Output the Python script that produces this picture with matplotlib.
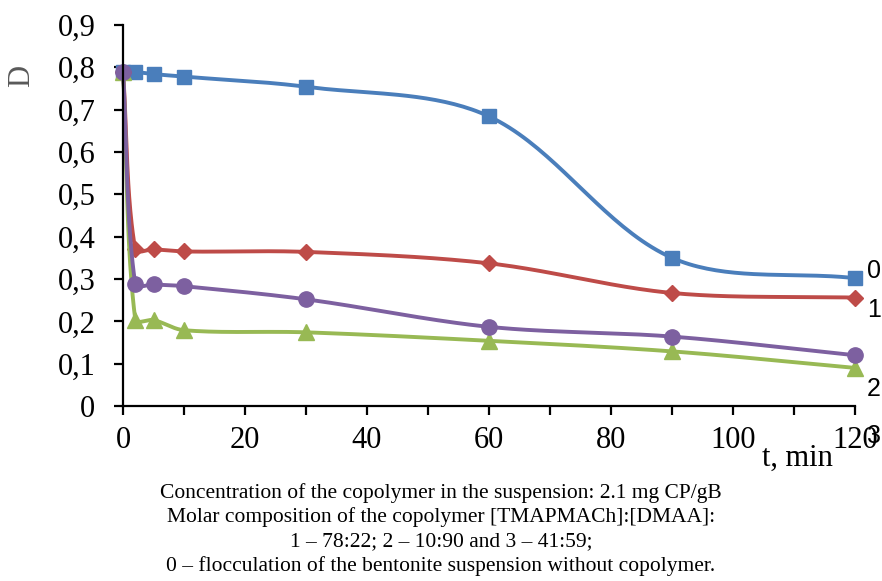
import matplotlib.pyplot as plt
import numpy as np
from matplotlib.ticker import MultipleLocator, FuncFormatter

# time points, min
t = [0, 2, 5, 10, 30, 60, 90, 120]

# optical density D for each curve
d0 = [0.790, 0.789, 0.784, 0.778, 0.754, 0.684, 0.350, 0.302]
d1 = [0.790, 0.370, 0.370, 0.365, 0.364, 0.337, 0.267, 0.256]
d2 = [0.790, 0.288, 0.287, 0.283, 0.252, 0.187, 0.164, 0.120]
d3 = [0.790, 0.204, 0.203, 0.179, 0.174, 0.154, 0.129, 0.090]

curve_names = ['0', '1', '2', '3']
caption = [
    'Concentration of the copolymer in the suspension: 2.1 mg CP/gB',
    'Molar composition of the copolymer [TMAPMACh]:[DMAA]:',
    '1 \u2013 78:22; 2 \u2013 10:90 and 3 \u2013 41:59;',
    '0 \u2013 flocculation of the bentonite suspension without copolymer.',
]

XMAX, YMAX = 120, 0.9
W, H = 732.0, 381.0  # plot area in pixels, used for the smoothing


def smooth(xs, ys, n=40):
    # smoothed line like a spreadsheet: cubic Bezier, tangents scaled by segment lengths
    p = np.column_stack([np.asarray(xs, float) / XMAX * W, np.asarray(ys, float) / YMAX * H])
    m = len(p)
    tang = np.zeros_like(p)
    for i in range(m):
        tang[i] = p[min(i + 1, m - 1)] - p[max(i - 1, 0)]

    def scale(k):
        l_prev = np.hypot(*(p[k] - p[max(k - 1, 0)]))
        l_next = np.hypot(*(p[min(k + 1, m - 1)] - p[k]))
        return (l_prev + l_next) if (l_prev + l_next) > 0 else 1.0

    out = []
    for i in range(m - 1):
        p1, p2 = p[i], p[i + 1]
        seg_len = np.hypot(*(p2 - p1))
        c1 = p1 + tang[i] * seg_len / scale(i) / 3
        c2 = p2 - tang[i + 1] * seg_len / scale(i + 1) / 3
        s = np.linspace(0, 1, n)[:, None]
        seg = (1 - s) ** 3 * p1 + 3 * (1 - s) ** 2 * s * c1 + 3 * (1 - s) * s ** 2 * c2 + s ** 3 * p2
        out.append(seg if i == 0 else seg[1:])
    out = np.vstack(out)
    return out[:, 0] / W * XMAX, out[:, 1] / H * YMAX


plt.rcParams['font.family'] = 'Liberation Serif'

fig = plt.figure(figsize=(8.82, 5.81), dpi=100)
ax = fig.add_axes([0.1395, 0.3012, 0.8299, 0.6558])

series = [
    (d0, '#4a7ebb', 's', 10.5),
    (d1, '#be4b48', 'D', 8.5),
    (d3, '#98b954', '^', 11),
    (d2, '#7d60a0', 'o', 11),
]
for ys, col, mk, ms in series:
    sx, sy = smooth(t, ys)
    ax.plot(sx, sy, color=col, lw=2.8, solid_capstyle='round', clip_on=False)
    ax.plot(t, ys, ls='none', marker=mk, ms=ms, color=col, mec=col, clip_on=False)

ax.set_xlim(0, XMAX)
ax.set_ylim(0, YMAX)
ax.xaxis.set_major_locator(MultipleLocator(20))
ax.xaxis.set_minor_locator(MultipleLocator(10))
ax.yaxis.set_major_locator(MultipleLocator(0.1))
ax.yaxis.set_major_formatter(FuncFormatter(lambda v, p: ('%.1f' % v).replace('.', ',') if v > 0.01 else '0'))

for s in ['top', 'right']:
    ax.spines[s].set_visible(False)
for s in ['left', 'bottom']:
    ax.spines[s].set_linewidth(1.6)
    ax.spines[s].set_color('black')
ax.tick_params(axis='both', which='both', direction='out', width=1.6, length=6.5, labelsize=22)
ax.tick_params(axis='y', pad=13.5)
ax.tick_params(axis='x', pad=8)

fig.text(22 / 882, 1 - 76 / 581, 'D', rotation=90, fontsize=22, color='#595959', ha='center', va='center')
fig.text(797 / 882, 1 - 458 / 581, 't, min', fontsize=22, ha='center', va='center')

label_y = [271, 310, 389, 436]
for name, yy in zip(curve_names, label_y):
    fig.text(874 / 882, 1 - yy / 581, name, fontsize=18, family='Liberation Sans',
             ha='center', va='center', zorder=0)

for i, line in enumerate(caption):
    fig.text(441 / 882, 1 - (493 + 24.3 * i) / 581, line, fontsize=15.5, ha='center', va='center')

fig.savefig('out.png', dpi=100)
